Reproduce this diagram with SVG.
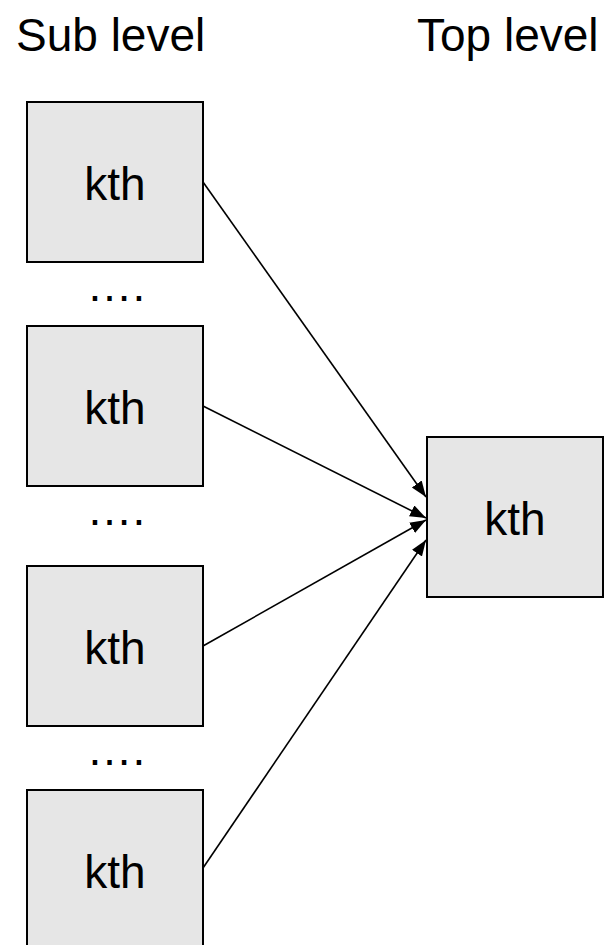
<svg xmlns="http://www.w3.org/2000/svg" width="611" height="945" viewBox="0 0 611 945">
  <style>
    .box { fill: #e6e6e6; stroke: #000; stroke-width: 2; }
    .lbl { font-family: "Liberation Sans", Arial, sans-serif; font-size: 46px; fill: #000; }
    .mid { text-anchor: middle; }
    .edge { stroke: #000; stroke-width: 1.6; fill: none; marker-end: url(#arrow); }
  </style>
  <defs>
    <marker id="arrow" markerUnits="userSpaceOnUse" markerWidth="18" markerHeight="14" refX="16" refY="6" orient="auto">
      <path d="M0,0 L16,6 L0,12 Z" fill="#000"/>
    </marker>
  </defs>

  <rect width="611" height="945" fill="#fff"/>

  <!-- column headings -->
  <text class="lbl" x="16" y="50.5">Sub level</text>
  <text class="lbl" x="417" y="50.5">Top level</text>

  <!-- sub-level nodes -->
  <g id="sub1">
    <rect class="box" x="27" y="102" width="176" height="160"/>
    <text class="lbl mid" x="115" y="200">kth</text>
  </g>
  <g id="sub2">
    <rect class="box" x="27" y="326" width="176" height="160"/>
    <text class="lbl mid" x="115" y="424">kth</text>
  </g>
  <g id="sub3">
    <rect class="box" x="27" y="566" width="176" height="160"/>
    <text class="lbl mid" x="115" y="664">kth</text>
  </g>
  <g id="sub4">
    <rect class="box" x="27" y="790" width="176" height="170"/>
    <text class="lbl mid" x="115" y="888">kth</text>
  </g>

  <!-- ellipses between sub-level nodes -->
  <text class="lbl mid" x="116" y="301">….</text>
  <text class="lbl mid" x="116" y="525">….</text>
  <text class="lbl mid" x="116" y="765">….</text>

  <!-- top-level node -->
  <g id="top">
    <rect class="box" x="427" y="437" width="176" height="160"/>
    <text class="lbl mid" x="515" y="535">kth</text>
  </g>

  <!-- connectors -->
  <g id="edges">
    <line class="edge" x1="203" y1="182" x2="426" y2="497"/>
    <line class="edge" x1="203" y1="406" x2="426" y2="518"/>
    <line class="edge" x1="203" y1="646" x2="426" y2="520"/>
    <line class="edge" x1="203" y1="868" x2="426" y2="540"/>
  </g>
</svg>
